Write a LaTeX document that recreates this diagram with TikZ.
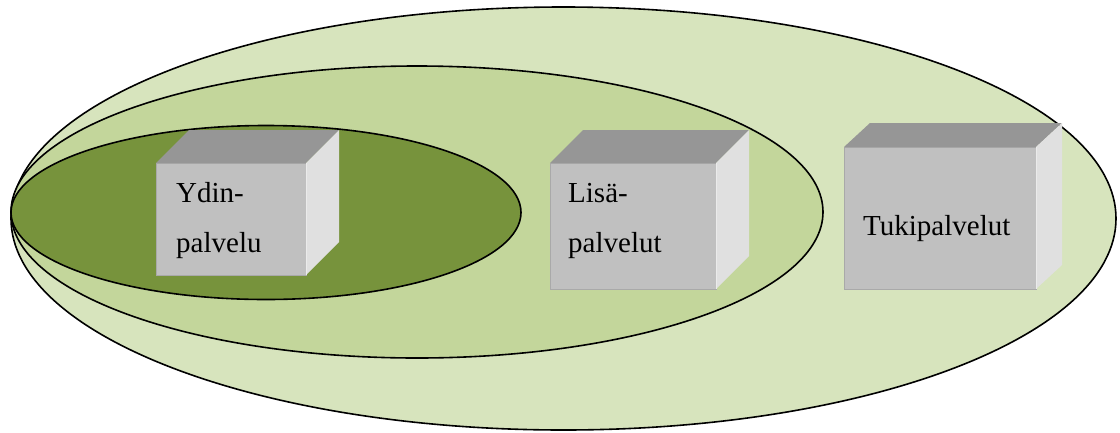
\documentclass[tikz,border=0pt]{standalone}
\usepackage{fontspec}
\setmainfont{Liberation Serif}
\usetikzlibrary{calc}
\definecolor{outerg}{HTML}{D7E4BD}
\definecolor{midg}{HTML}{C3D69B}
\definecolor{innerg}{HTML}{77933C}
\definecolor{frontg}{HTML}{C0C0C0}
\definecolor{topg}{HTML}{969696}
\definecolor{sideg}{HTML}{E0E0E0}

% a grey box: front face as a named node, top and side faces from its corners
\newcommand\drawcube[7]{%
  \node[front,minimum width=#4pt,minimum height=#5pt] (#1) at (#2,#3) {};
  \fill[topface] (#1.north west) -- ++(#6,-#7) -- ($(#1.north east)+(#6,-#7)$) -- (#1.north east) -- cycle;
  \fill[sideface] (#1.north east) -- ++(#6,-#7) -- ($(#1.south east)+(#6,-#7)$) -- (#1.south east) -- cycle;
  \draw[edge] (#1.north east) -- (#1.south east);
}

\begin{document}
\begin{tikzpicture}[x=1pt,y=-1pt,
  ring/.style={draw=black,line width=1.6pt},
  front/.style={fill=frontg,draw=frontg!88!black,line width=0.8pt,inner sep=0pt,outer sep=0pt,anchor=north west},
  topface/.style={fill=topg},
  sideface/.style={fill=sideg},
  edge/.style={draw=white!92!black,line width=1pt},
  lbl/.style={font=\fontsize{29}{29}\selectfont,anchor=base west,inner sep=0pt}]
\useasboundingbox (0,0) rectangle (1120,432);

% nested service rings
\draw[ring,fill=outerg] (563.5,218.5) ellipse [x radius=552.5pt, y radius=211.5pt];
\draw[ring,fill=midg] (417,212) ellipse [x radius=406pt, y radius=146pt];
\draw[ring,fill=innerg] (266,212.5) ellipse [x radius=255pt, y radius=87pt];

% boxes
\drawcube{ydin}{156}{163}{150}{112}{33}{33}
\drawcube{lisa}{550}{163}{166}{126}{33}{33}
\drawcube{tuki}{844}{147}{192}{142}{26}{24}

% labels
\node[lbl] (ydin1) at (176,202) {Ydin-};
\node[lbl] (ydin2) at (176,252) {palvelu};
\node[lbl] (lisa1) at (568,202) {Lisä-};
\node[lbl] (lisa2) at (568,252) {palvelut};
\node[lbl] (tuki1) at (863,235) {Tukipalvelut};
\end{tikzpicture}
\end{document}
